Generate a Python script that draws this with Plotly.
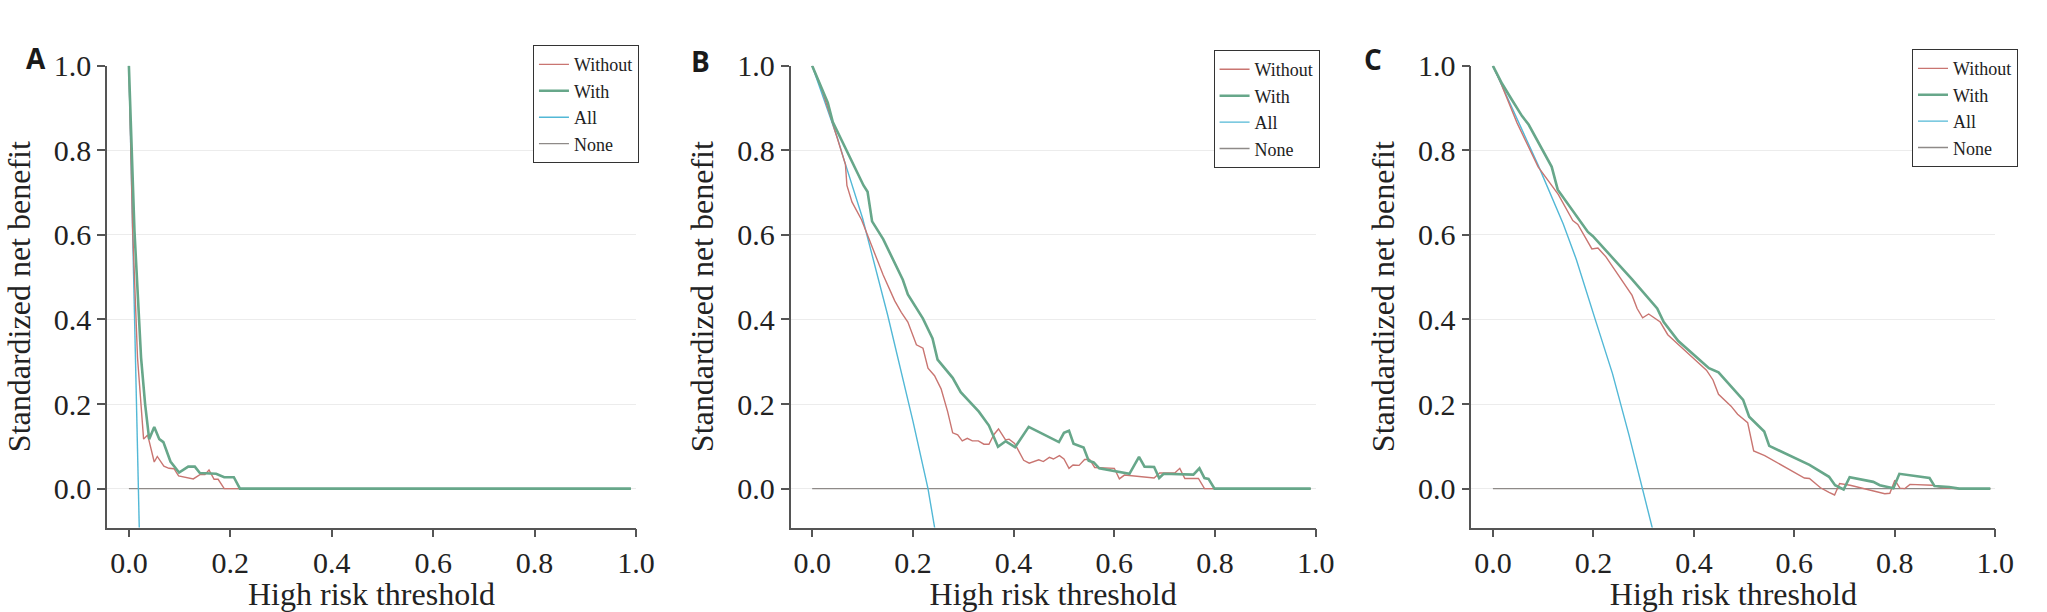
import plotly.graph_objects as go
from plotly.subplots import make_subplots

# decision curves (threshold -> standardized net benefit)
none_x = [0.0, 0.99]
none_y = [0.0, 0.0]

# panel A
a_without_x = [0.0, 0.0075, 0.017, 0.029, 0.037, 0.05, 0.056, 0.069, 0.079, 0.089, 0.098,
               0.127, 0.14, 0.15, 0.158, 0.168, 0.176, 0.188, 0.99]
a_without_y = [1.0, 0.61, 0.31, 0.117, 0.127, 0.063, 0.076, 0.053, 0.048, 0.047, 0.030,
               0.023, 0.033, 0.033, 0.044, 0.022, 0.022, 0.0, 0.0]
a_with_x = [0.0, 0.011, 0.024, 0.032, 0.040, 0.050, 0.060, 0.068, 0.082, 0.099, 0.117,
            0.130, 0.140, 0.172, 0.188, 0.207, 0.219, 0.99]
a_with_y = [1.0, 0.61, 0.31, 0.20, 0.117, 0.146, 0.117, 0.110, 0.064, 0.038, 0.052,
            0.052, 0.037, 0.035, 0.027, 0.027, 0.0, 0.0]
a_all_x = [0.0, 0.01, 0.0185, 0.021]
a_all_y = [1.0, 0.47, 0.0, -0.12]

# panel B
b_without_x = [0.0, 0.016, 0.036, 0.059, 0.066, 0.069, 0.079, 0.098, 0.121, 0.141, 0.164,
               0.177, 0.190, 0.207, 0.220, 0.230, 0.243, 0.256, 0.269, 0.279, 0.289, 0.298,
               0.308, 0.318, 0.330, 0.341, 0.351, 0.361, 0.370, 0.384, 0.391, 0.402, 0.420,
               0.431, 0.450, 0.459, 0.471, 0.479, 0.491, 0.500, 0.510, 0.518, 0.530, 0.541,
               0.551, 0.561, 0.600, 0.610, 0.620, 0.679, 0.690, 0.720, 0.730, 0.740, 0.767,
               0.779, 0.99]
b_without_y = [1.0, 0.955, 0.882, 0.790, 0.767, 0.717, 0.678, 0.636, 0.567, 0.505, 0.444,
               0.417, 0.394, 0.340, 0.332, 0.285, 0.267, 0.236, 0.182, 0.132, 0.127, 0.113,
               0.119, 0.113, 0.113, 0.105, 0.105, 0.128, 0.141, 0.115, 0.117, 0.107, 0.067,
               0.060, 0.068, 0.064, 0.074, 0.070, 0.078, 0.070, 0.048, 0.056, 0.055, 0.069,
               0.069, 0.050, 0.048, 0.023, 0.032, 0.025, 0.037, 0.037, 0.048, 0.024, 0.024,
               0.0, 0.0]
b_with_x = [0.0, 0.031, 0.041, 0.079, 0.102, 0.110, 0.119, 0.141, 0.180, 0.190, 0.220,
            0.239, 0.249, 0.279, 0.295, 0.331, 0.351, 0.369, 0.384, 0.403, 0.430, 0.490,
            0.500, 0.510, 0.519, 0.539, 0.549, 0.559, 0.570, 0.630, 0.649, 0.660, 0.679,
            0.689, 0.698, 0.757, 0.769, 0.779, 0.787, 0.799, 0.99]
b_with_y = [1.0, 0.913, 0.867, 0.775, 0.717, 0.702, 0.632, 0.590, 0.494, 0.459, 0.402,
            0.355, 0.305, 0.262, 0.228, 0.182, 0.149, 0.099, 0.112, 0.098, 0.146, 0.110,
            0.132, 0.137, 0.106, 0.097, 0.066, 0.062, 0.048, 0.035, 0.075, 0.052, 0.051,
            0.025, 0.035, 0.033, 0.048, 0.025, 0.023, 0.0, 0.0]
b_all_x = [0.0, 0.05, 0.064, 0.10, 0.15, 0.20, 0.23, 0.243, 0.25]
b_all_y = [1.0, 0.83, 0.775, 0.64, 0.41, 0.16, 0.0, -0.091, -0.14]

# panel C
c_without_x = [0.0, 0.015, 0.048, 0.090, 0.130, 0.159, 0.169, 0.197, 0.209, 0.225, 0.277,
               0.287, 0.298, 0.310, 0.333, 0.348, 0.369, 0.425, 0.438, 0.449, 0.474, 0.487,
               0.507, 0.519, 0.541, 0.620, 0.630, 0.652, 0.669, 0.680, 0.690, 0.711, 0.780,
               0.790, 0.800, 0.810, 0.820, 0.830, 0.875, 0.895, 0.921, 0.99]
c_without_y = [1.0, 0.961, 0.865, 0.761, 0.696, 0.634, 0.625, 0.567, 0.569, 0.548, 0.457,
               0.426, 0.404, 0.413, 0.394, 0.364, 0.341, 0.280, 0.257, 0.223, 0.195, 0.176,
               0.156, 0.089, 0.078, 0.025, 0.024, 0.002, -0.009, -0.015, 0.012, 0.008, -0.012,
               -0.011, 0.020, 0.001, 0.0, 0.010, 0.008, 0.002, 0.0, 0.0]
c_with_x = [0.0, 0.018, 0.038, 0.058, 0.071, 0.090, 0.117, 0.129, 0.163, 0.189, 0.199,
            0.222, 0.231, 0.277, 0.297, 0.327, 0.340, 0.369, 0.402, 0.430, 0.449, 0.498,
            0.510, 0.540, 0.550, 0.590, 0.630, 0.669, 0.681, 0.698, 0.710, 0.757, 0.770,
            0.797, 0.809, 0.869, 0.879, 0.908, 0.928, 0.99]
c_with_y = [1.0, 0.958, 0.919, 0.881, 0.861, 0.819, 0.761, 0.707, 0.649, 0.607, 0.597,
            0.565, 0.555, 0.495, 0.468, 0.426, 0.394, 0.349, 0.314, 0.285, 0.275, 0.210,
            0.170, 0.135, 0.101, 0.079, 0.056, 0.028, 0.008, -0.002, 0.027, 0.016, 0.008,
            0.001, 0.035, 0.025, 0.006, 0.004, 0.0, 0.0]
c_all_x = [0.0, 0.09, 0.14, 0.166, 0.205, 0.238, 0.271, 0.298, 0.317, 0.325]
c_all_y = [1.0, 0.765, 0.626, 0.542, 0.395, 0.272, 0.126, 0.0, -0.090, -0.13]

tick_vals = [0.0, 0.2, 0.4, 0.6, 0.8, 1.0]
panel_letters = ["A", "B", "C"]

colors = {"Without": "#c97571", "With": "#67a78a", "All": "#52b8d6", "None": "#8e8a88"}
widths = {"Without": 1.4, "With": 2.6, "All": 1.4, "None": 1.4}
rank = {"Without": 1, "With": 2, "All": 3, "None": 4}

panels = [
    ("legend", [("None", none_x, none_y), ("All", a_all_x, a_all_y),
                ("Without", a_without_x, a_without_y), ("With", a_with_x, a_with_y)]),
    ("legend2", [("None", none_x, none_y), ("All", b_all_x, b_all_y),
                 ("Without", b_without_x, b_without_y), ("With", b_with_x, b_with_y)]),
    ("legend3", [("None", none_x, none_y), ("All", c_all_x, c_all_y),
                 ("Without", c_without_x, c_without_y), ("With", c_with_x, c_with_y)]),
]

fig = make_subplots(rows=1, cols=3)

for col, (leg, series) in enumerate(panels, start=1):
    for name, xs, ys in series:
        fig.add_trace(go.Scatter(x=xs, y=ys, mode="lines", name=name, legend=leg,
                                 legendrank=rank[name],
                                 line=dict(color=colors[name], width=widths[name])),
                      row=1, col=col)

serif = "Liberation Serif"
axis_style = dict(showline=True, linecolor="#555555", linewidth=1.5, ticks="outside",
                  ticklen=8, tickwidth=1.5, tickcolor="#555555", tickvals=tick_vals,
                  tickformat=".1f", zeroline=False,
                  tickfont=dict(family=serif, size=30, color="#222222"))

x_domains = [[0.0528, 0.3136], [0.3898, 0.6488], [0.7255, 0.9839]]
for i in range(3):
    fig.update_xaxes(axis_style, row=1, col=i + 1, domain=x_domains[i], range=[-0.043, 1.0],
                     showgrid=False,
                     title=dict(text="High risk threshold", standoff=8,
                                font=dict(family=serif, size=32, color="#222222")))
    fig.update_yaxes(axis_style, row=1, col=i + 1, domain=[0.142, 0.918], range=[-0.092, 1.0],
                     showgrid=True, gridcolor="#ececec", gridwidth=1,
                     title=dict(text="Standardized net benefit", standoff=14,
                                font=dict(family=serif, size=32, color="#222222")))

legend_pos = [(0.2628, 0.9526), (0.5984, 0.9444), (0.9428, 0.946)]
legend_style = dict(font=dict(family=serif, size=18, color="#222222"), bgcolor="white",
                    bordercolor="#333333", borderwidth=1, itemwidth=30,
                    xanchor="left", yanchor="top")
fig.update_layout(
    legend=dict(legend_style, x=legend_pos[0][0], y=legend_pos[0][1]),
    legend2=dict(legend_style, x=legend_pos[1][0], y=legend_pos[1][1]),
    legend3=dict(legend_style, x=legend_pos[2][0], y=legend_pos[2][1]),
)

letter_pos = [(0.0117, 0.9657), (0.3454, 0.961), (0.6825, 0.964)]
for letter, (lx, ly) in zip(panel_letters, letter_pos):
    fig.add_annotation(text=letter, x=lx, y=ly, xref="paper", yref="paper", showarrow=False,
                       font=dict(family="Open Sans", size=28, color="#1a1a1a", weight="bold"))

fig.update_layout(width=2047, height=612, margin=dict(l=0, r=0, t=0, b=0),
                  plot_bgcolor="white", paper_bgcolor="white", showlegend=True)

# page body has a default margin; drop it so the figure fills the window exactly
fig.write_html("out.html", config={"displayModeBar": False},
               post_script="document.body.style.margin='0px';")
